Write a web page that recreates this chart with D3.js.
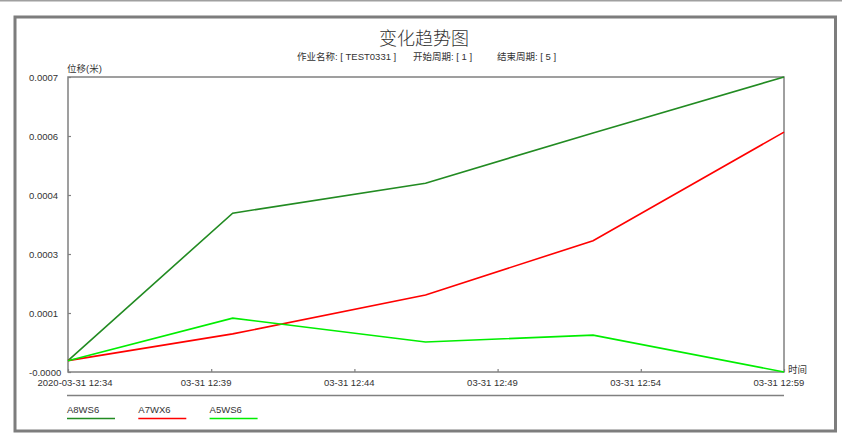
<!DOCTYPE html>
<html>
<head>
<meta charset="utf-8">
<script src="https://cdn.jsdelivr.net/npm/d3@7/dist/d3.min.js"></script>
<style>
  html, body { margin: 0; padding: 0; background: #fff; }
  svg { display: block; }
  text { font-family: "Liberation Sans", Arial, "Noto Sans CJK SC", sans-serif; fill: #333; }
</style>
</head>
<body>
<svg id="chart" width="842" height="437"></svg>
<script>
// ---- data ----
const times = ["2020-03-31 12:34:00", "2020-03-31 12:39:45", "2020-03-31 12:46:29", "2020-03-31 12:52:20", "2020-03-31 12:59:00"];
const seriesNames = ["A8WS6", "A7WX6", "A5WS6"];
const seriesColors = ["#228b22", "#ff0000", "#00ee00"];
const valuesA8WS6 = [0, 0.000364, 0.000438, 0.000562, 0.0007];
const valuesA7WX6 = [0, 0.000066, 0.000162, 0.000296, 0.000564];
const valuesA5WS6 = [0, 0.000105, 0.000046, 0.000063, -0.000028];
const xTickTimes = ["2020-03-31 12:34", "2020-03-31 12:39", "2020-03-31 12:44", "2020-03-31 12:49", "2020-03-31 12:54", "2020-03-31 12:59"];
const xTickLabels = ["2020-03-31 12:34", "03-31 12:39", "03-31 12:44", "03-31 12:49", "03-31 12:54", "03-31 12:59"];
const yTickLabels = ["-0.0000", "0.0001", "0.0003", "0.0004", "0.0006", "0.0007"];
const titleText = "变化趋势图";
const subtitleParts = ["作业名称: [ TEST0331 ]", "开始周期: [ 1 ]", "结束周期: [ 5 ]"];
const yAxisTitle = "位移(米)";
const xAxisTitle = "时间";

// ---- setup ----
const svg = d3.select("#chart");
const parseFull = d3.timeParse("%Y-%m-%d %H:%M:%S");
const parseMin = d3.timeParse("%Y-%m-%d %H:%M");
const dates = times.map(parseFull);
const tickDates = xTickTimes.map(parseMin);
const allSeries = [valuesA8WS6, valuesA7WX6, valuesA5WS6];

const L = 68, R = 784, T = 77, B = 372;

const x = d3.scaleTime().domain([tickDates[0], tickDates[tickDates.length - 1]]).range([L, R]);
const allVals = allSeries.flat();
const y = d3.scaleLinear().domain(d3.extent(allVals)).range([B, T]);
const yDom = y.domain();
const yTickVals = yTickLabels.map((_, i) => yDom[0] + (yDom[1] - yDom[0]) * i / (yTickLabels.length - 1));

// top page line
svg.append("line").attr("x1", 0).attr("x2", 842).attr("y1", 0.5).attr("y2", 0.5)
  .attr("stroke", "#a0a0a0").attr("stroke-width", 2);

// outer frame
svg.append("rect").attr("x", 15).attr("y", 17).attr("width", 820.5).attr("height", 414)
  .attr("fill", "none").attr("stroke", "#7d7d7d").attr("stroke-width", 3);

// title
svg.append("text").attr("x", 424).attr("y", 37).attr("text-anchor", "middle")
  .attr("dominant-baseline", "central").style("font-size", "18px")
  .style("font-family", "'Noto Sans CJK SC', sans-serif").style("font-weight", 300)
  .text(titleText);

// subtitle
const subX = [297, 413, 497];
subtitleParts.forEach((s, i) => {
  svg.append("text").attr("x", subX[i]).attr("y", 56).attr("dominant-baseline", "central")
    .style("font-size", "9.5px").text(s);
});

// y axis title
svg.append("text").attr("x", 67).attr("y", 68.5).attr("dominant-baseline", "central")
  .style("font-size", "9.5px").text(yAxisTitle);

// x axis title
svg.append("text").attr("x", 788).attr("y", 369).attr("dominant-baseline", "central")
  .style("font-size", "9.5px").text(xAxisTitle);

// plot box
svg.append("rect").attr("x", L).attr("y", T).attr("width", R - L).attr("height", B - T)
  .attr("fill", "none").attr("stroke", "#808080").attr("stroke-width", 1.5);

// y axis
const yAxis = d3.axisLeft(y).tickValues(yTickVals).tickSize(-3).tickFormat((d, i) => yTickLabels[i]);
const gy = svg.append("g").attr("transform", `translate(${L},0)`).call(yAxis);
gy.select(".domain").remove();
gy.selectAll(".tick line").attr("stroke", "#808080").attr("stroke-width", 1.2);
gy.selectAll(".tick text").attr("x", 29 - L).attr("dy", "0.35em").attr("text-anchor", "start")
  .style("font-size", "9.5px").style("font-family", "'Liberation Sans', Arial, sans-serif").attr("fill", "#333");

// x axis
const xAxis = d3.axisBottom(x).tickValues(tickDates).tickSize(-3).tickFormat((d, i) => xTickLabels[i]);
const gx = svg.append("g").attr("transform", `translate(0,${B})`).call(xAxis);
gx.select(".domain").remove();
gx.selectAll(".tick line").attr("stroke", "#808080").attr("stroke-width", 1.2);
gx.selectAll(".tick text").attr("x", -31).attr("y", 11).attr("dy", "0.35em").attr("text-anchor", "start")
  .style("font-size", "9.5px").style("font-family", "'Liberation Sans', Arial, sans-serif").attr("fill", "#333");

// lines
const line = d3.line().x((d, i) => x(dates[i])).y(d => y(d));
allSeries.forEach((vals, k) => {
  svg.append("path").datum(vals).attr("d", line).attr("fill", "none")
    .attr("stroke", seriesColors[k]).attr("stroke-width", 1.6);
});

// legend separator
svg.append("line").attr("x1", 67).attr("x2", R).attr("y1", 395.5).attr("y2", 395.5)
  .attr("stroke", "#808080").attr("stroke-width", 1.5);

// legend
seriesNames.forEach((n, k) => {
  const lx = 67 + k * 71.3;
  svg.append("text").attr("x", lx).attr("y", 409).attr("dominant-baseline", "central")
    .style("font-size", "9.5px").text(n);
  svg.append("line").attr("x1", lx).attr("x2", lx + 48).attr("y1", 418.5).attr("y2", 418.5)
    .attr("stroke", seriesColors[k]).attr("stroke-width", 1.6);
});
</script>
</body>
</html>
